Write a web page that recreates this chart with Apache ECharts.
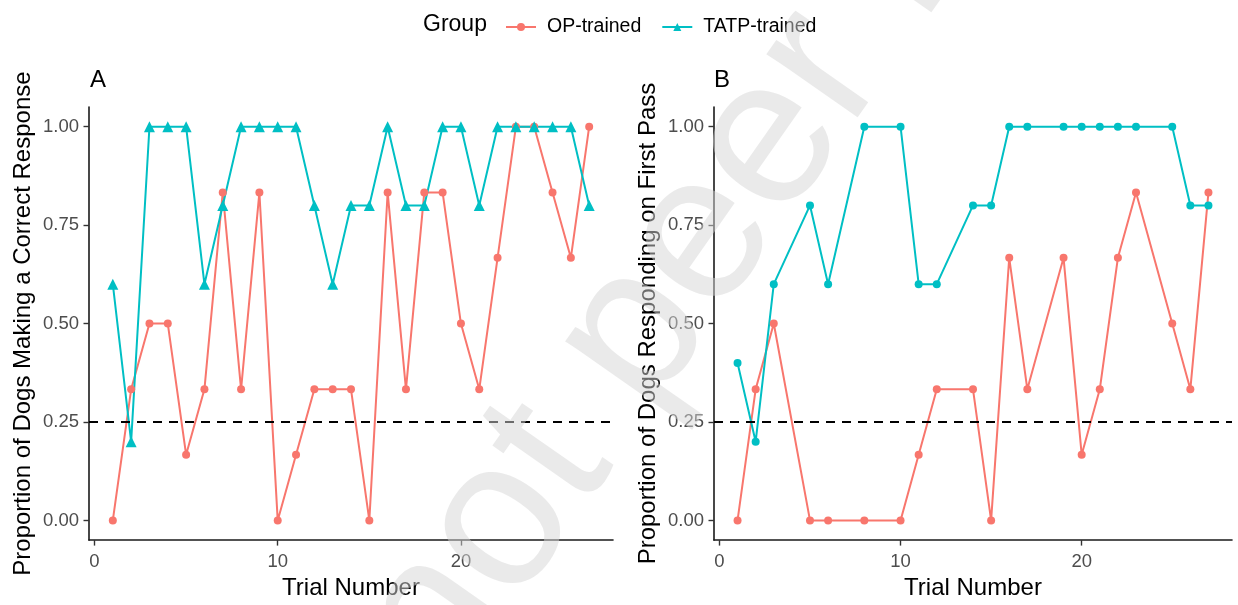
<!DOCTYPE html>
<html>
<head>
<meta charset="utf-8">
<script src="https://cdn.jsdelivr.net/npm/echarts@6/dist/echarts.min.js"></script>
<style>
html,body{margin:0;padding:0;background:#fff;}
#c{width:1238px;height:605px;}
</style>
</head>
<body>
<div id="c"></div>
<script>
// ---- data ----
const trialsA = [1,2,3,4,5,6,7,8,9,10,11,12,13,14,15,16,17,18,19,20,21,22,23,24,25,26,27];
const opA   = [0,0.333,0.5,0.5,0.167,0.333,0.833,0.333,0.833,0,0.167,0.333,0.333,0.333,0,0.833,0.333,0.833,0.833,0.5,0.333,0.667,1,1,0.833,0.667,1];
const tatpA = [0.6,0.2,1,1,1,0.6,0.8,1,1,1,1,0.8,0.6,0.8,0.8,1,0.8,0.8,1,1,0.8,1,1,1,1,1,0.8];

const trialsB = [1,2,3,5,6,8,10,11,12,14,15,16,17,19,20,21,22,23,25,26,27];
const opB   = [0,0.333,0.5,0,0,0,0,0.167,0.333,0.333,0,0.667,0.333,0.667,0.167,0.333,0.667,0.833,0.5,0.333,0.833];
const tatpB = [0.4,0.2,0.6,0.8,0.6,1,1,0.6,0.6,0.8,0.8,1,1,1,1,1,1,1,1,0.8,0.8];

const xTicks = [0,10,20];
const yTicks = [0,0.25,0.5,0.75,1];
const chanceLevel = 0.25;

const groupNames = ['OP-trained','TATP-trained'];
const yNames = ['Proportion of Dogs Making a Correct Response','Proportion of Dogs Responding on First Pass'];
const panelTags = ['A','B'];
const xName = 'Trial Number';
const legendTitle = 'Group';
const watermark = 'not peer reviewed';

// ---- styling ----
const FONT = '"Liberation Sans", Arial, sans-serif';
const RED = '#F8766D', TEAL = '#00BFC4';
const grids = [
  {left: 89, top: 107, width: 524, height: 440},
  {left: 714, top: 107, width: 518, height: 440}
];

function xAxisFor(i){
  return {
    gridIndex: i, type: 'value', min: -0.3, max: 28.3,
    name: xName, nameLocation: 'middle', nameGap: 33,
    nameTextStyle: {fontFamily: FONT, fontSize: 24, color: '#000'},
    axisLine: {show: true, onZero: false, lineStyle: {color: '#1a1a1a', width: 1.6}},
    axisTick: {show: true, length: 5.5, customValues: xTicks, lineStyle: {color: '#333', width: 1.4}},
    axisLabel: {show: true, customValues: xTicks, margin: 12, fontFamily: FONT, fontSize: 18.5, color: '#4d4d4d'},
    splitLine: {show: false}
  };
}
function yAxisFor(i){
  return {
    gridIndex: i, type: 'value', min: -0.05, max: 1.05,
    name: yNames[i], nameLocation: 'middle', nameGap: 54,
    nameTextStyle: {fontFamily: FONT, fontSize: 24, color: '#000'},
    axisLine: {show: true, onZero: false, lineStyle: {color: '#1a1a1a', width: 1.6}},
    axisTick: {show: true, length: 5.5, customValues: yTicks, lineStyle: {color: '#333', width: 1.4}},
    axisLabel: {show: true, customValues: yTicks, margin: 10, fontFamily: FONT, fontSize: 18.5, color: '#4d4d4d',
      formatter: v => Number(v).toFixed(2)},
    splitLine: {show: false}
  };
}
function lineSeries(name, i, xs, ys, color, symbol, size, withMark){
  const s = {
    name: name, type: 'line', xAxisIndex: i, yAxisIndex: i,
    data: xs.map((x, k) => [x, ys[k]]),
    symbol: symbol, symbolSize: size, showSymbol: true,
    lineStyle: {color: color, width: 2},
    itemStyle: {color: color, borderWidth: 0},
    emphasis: {disabled: true},
    z: 3
  };
  if (withMark) {
    s.markLine = {
      silent: true, symbol: ['none','none'], label: {show: false},
      lineStyle: {color: '#000', width: 2, type: [9,7]},
      data: [{yAxis: chanceLevel}]
    };
  }
  return s;
}

const ang = 55 * Math.PI / 180;
const chart = echarts.init(document.getElementById('c'), null, {renderer: 'canvas'});
chart.setOption({
  animation: false,
  backgroundColor: '#fff',
  grid: grids,
  xAxis: [xAxisFor(0), xAxisFor(1)],
  yAxis: [yAxisFor(0), yAxisFor(1)],
  legend: {
    data: groupNames, left: 500, top: 12, orient: 'horizontal',
    itemWidth: 30, itemHeight: 10, itemGap: 20,
    textStyle: {fontFamily: FONT, fontSize: 19.5, color: '#000', padding: [0,0,0,6]},
    selectedMode: false
  },
  series: [
    lineSeries(groupNames[0], 0, trialsA, opA, RED, 'circle', 8, true),
    lineSeries(groupNames[1], 0, trialsA, tatpA, TEAL, 'triangle', 11, false),
    lineSeries(groupNames[0], 1, trialsB, opB, RED, 'circle', 8, true),
    lineSeries(groupNames[1], 1, trialsB, tatpB, TEAL, 'circle', 8, false)
  ],
  graphic: [
    {type: 'text', x: 423, y: 25, style: {text: legendTitle, font: '23px ' + FONT, fill: '#000', align: 'left', verticalAlign: 'middle'}},
    {type: 'text', x: 90, y: 68, style: {text: panelTags[0], font: '24px ' + FONT, fill: '#000', align: 'left', verticalAlign: 'top'}},
    {type: 'text', x: 714, y: 68, style: {text: panelTags[1], font: '24px ' + FONT, fill: '#000', align: 'left', verticalAlign: 'top'}},
    {type: 'text', x: 400, y: 670, rotation: ang, z: 100, silent: true,
      style: {text: watermark, font: '210px ' + FONT, fill: 'rgba(214,214,214,0.5)', align: 'left', verticalAlign: 'middle'}}
  ]
});
</script>
</body>
</html>
